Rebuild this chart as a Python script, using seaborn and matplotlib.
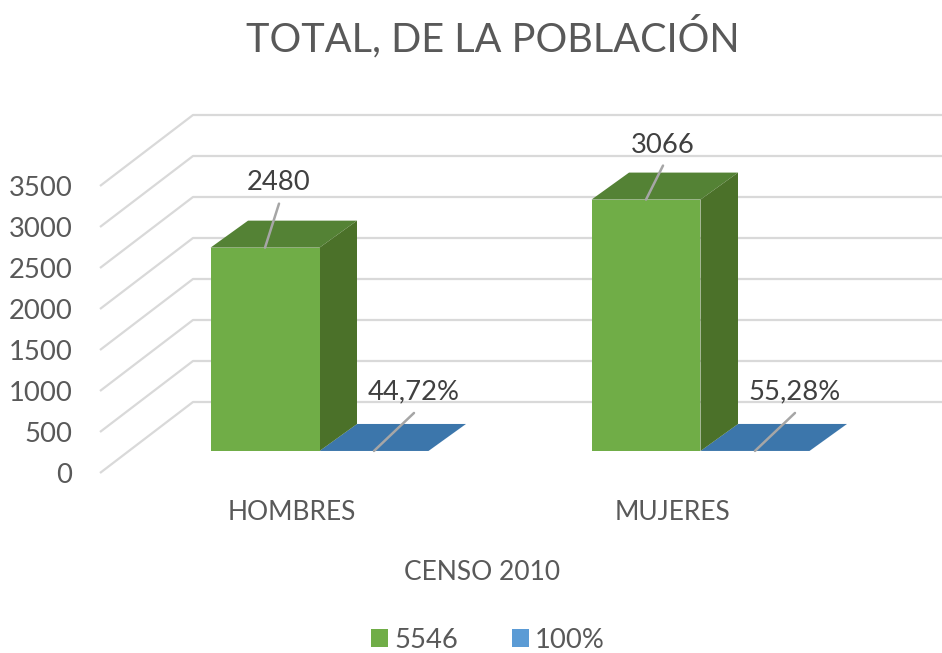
import pandas as pd
import matplotlib
matplotlib.use("Agg")
import matplotlib.pyplot as plt
import seaborn as sns
from matplotlib.patches import Polygon
from matplotlib.transforms import ScaledTranslation

# Data
categories = ["HOMBRES", "MUJERES"]
series_names = ["5546", "100%"]
personas = [2480, 3066]
proporcion = [0.4472, 0.5528]
etiquetas_personas = ["2480", "3066"]
etiquetas_proporcion = ["44,72%", "55,28%"]
y_ticks = [0, 500, 1000, 1500, 2000, 2500, 3000, 3500]

df = pd.DataFrame({
    "sexo": categories * 2,
    "serie": [series_names[0]] * 2 + [series_names[1]] * 2,
    "valor": personas + proporcion,
})

sns.set_theme(style="white")
plt.rcParams["font.family"] = ["Lato", "DejaVu Sans"]

W, H = 942, 653
GRAY = "#595959"
DARK = "#404040"
GRID = "#D9D9D9"

fig = plt.figure(figsize=(W / 100, H / 100), dpi=100, facecolor="white")
# plot box: x 100..942, y 164 (3500) .. 451 (0) in image pixels
ax = fig.add_axes([100 / W, 1 - 451 / H, 842 / W, 287 / H])

sns.barplot(data=df, x="sexo", y="valor", hue="serie", ax=ax,
            palette=["#70AD47", "#5B9BD5"], width=0.572, gap=0,
            saturation=1, linewidth=0, zorder=3)

px_x = 1 / 381  # category units per pixel
px_y = 3500 / 287  # value units per pixel
ax.set_xlim(-219.5 * px_x, 622.5 * px_x)
ax.set_ylim(0, 3500)
ax.set_yticks(y_ticks)
for s in ax.spines.values():
    s.set_visible(False)

# left wall and back wall of the 3D frame
for t in y_ticks:
    xs = [-219.5 * px_x, -126.5 * px_x, 622.5 * px_x]
    ys = [t - 22 * px_y, t + 49 * px_y, t + 49 * px_y]
    ax.plot(xs, ys, color=GRID, lw=1.6, clip_on=False, zorder=1, solid_capstyle="butt")

# top and side faces, same bars shifted back in depth
dx, dy = 37.5 * px_x, 27 * px_y
caras = [("#548235", "#4B7129"), ("#3C76AB", "#3C76AB")]
for cont, (c_top, c_side) in zip(ax.containers, caras):
    for bar in cont:
        x0, x1, h = bar.get_x(), bar.get_x() + bar.get_width(), bar.get_height()
        ax.add_patch(Polygon([(x0, h), (x1, h), (x1 + dx, h + dy), (x0 + dx, h + dy)],
                             fc=c_top, ec="none", clip_on=False, zorder=2.5))
        ax.add_patch(Polygon([(x1, 0), (x1, h), (x1 + dx, h + dy), (x1 + dx, dy)],
                             fc=c_side, ec="none", clip_on=False, zorder=2.6))

# data labels with leader lines
leader = "#A6A6A6"
for bar, txt in zip(ax.containers[0], etiquetas_personas):
    xy = (bar.get_x() + bar.get_width() / 2, bar.get_height())
    off = (14, 44) if txt == "2480" else (17, 34)
    lab = (14, 65) if txt == "2480" else (17, 54)
    ax.annotate("", xy=xy, xytext=off, textcoords="offset pixels", zorder=5,
                arrowprops=dict(arrowstyle="-", color=leader, lw=1.8, shrinkA=0, shrinkB=0))
    ax.annotate(txt, xy=xy, xytext=lab, textcoords="offset pixels", ha="center", va="center",
                fontsize=19.7, color=DARK, zorder=6)
for bar, txt in zip(ax.containers[1], etiquetas_proporcion):
    xy = (bar.get_x() + bar.get_width() / 2, bar.get_height())
    ax.annotate("", xy=xy, xytext=(40, 38), textcoords="offset pixels", zorder=5,
                arrowprops=dict(arrowstyle="-", color=leader, lw=1.8, shrinkA=0, shrinkB=0))
    ax.annotate(txt, xy=xy, xytext=(40, 59), textcoords="offset pixels", ha="center", va="center",
                fontsize=19.7, color=DARK, zorder=6)

# axis text
ax.tick_params(axis="y", length=0, pad=20, labelsize=19.7, labelcolor=GRAY)
ax.tick_params(axis="x", length=0, pad=0, labelsize=19, labelcolor=GRAY)
shift_y = ScaledTranslation(0, -22 / 100, fig.dpi_scale_trans)
shift_x = ScaledTranslation(-28 / 100, -49 / 100, fig.dpi_scale_trans)
for lab in ax.get_yticklabels():
    lab.set_transform(lab.get_transform() + shift_y)
for lab in ax.get_xticklabels():
    lab.set_transform(lab.get_transform() + shift_x)

ax.set_ylabel("")
ax.set_xlabel("CENSO 2010", fontsize=19, color=GRAY, va="center")
ax.xaxis.set_label_coords((482 - 100) / 842, (451 - 572) / 287)
ax.set_title("TOTAL, DE LA POBLACIÓN", fontsize=28.5, color=GRAY, va="center",
             x=(493 - 100) / 842, y=(451 - 45) / 287)

handles, labels = ax.get_legend_handles_labels()
ax.legend_.remove()
fig.legend(handles, labels, ncol=2, loc="center", bbox_to_anchor=(488 / W, 1 - 640 / H),
           frameon=False, fontsize=19.7, labelcolor=GRAY, handlelength=0.62, handleheight=0.62,
           handletextpad=0.22, columnspacing=1.95, borderpad=0)

fig.savefig("out.png", dpi=100)
